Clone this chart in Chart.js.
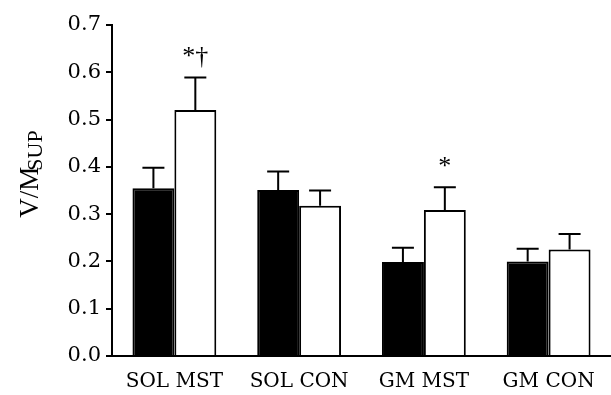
<!DOCTYPE html>
<html>
<head>
<meta charset="utf-8">
<script src="https://cdn.jsdelivr.net/npm/chart.js@4.4.0/dist/chart.umd.min.js"></script>
<style>
  html, body { margin: 0; padding: 0; background: #fff; }
  #wrap { width: 611px; height: 395px; }
</style>
</head>
<body>
<div id="wrap"><canvas id="myChart"></canvas></div>
<script>
// data
var categories = ["SOL MST", "SOL CON", "GM MST", "GM CON"];
var preValues = [0.355, 0.351, 0.199, 0.200];
var postValues = [0.520, 0.318, 0.309, 0.225];
var preErrors = [0.043, 0.039, 0.030, 0.027];
var postErrors = [0.069, 0.032, 0.048, 0.033];
var markers = ["", "", "", ""];
var postMarkers = ["*\u2020", "", "*", ""];
var yTicks = [0, 0.1, 0.2, 0.3, 0.4, 0.5, 0.6, 0.7];

var serif = "'DejaVu Serif', 'Liberation Serif', serif";
var times = "'Liberation Serif', serif";

// error bars (upwards only) + significance marks
var errorBarPlugin = {
    id: "errorBars",
    afterDatasetsDraw: function (chart) {
        var ctx = chart.ctx;
        var yScale = chart.scales.y;
        var errs = [preErrors, postErrors];
        ctx.save();
        ctx.strokeStyle = "#000";
        ctx.lineWidth = 2;
        chart.data.datasets.forEach(function (ds, di) {
            var meta = chart.getDatasetMeta(di);
            meta.data.forEach(function (bar, i) {
                var top = yScale.getPixelForValue(ds.data[i] + errs[di][i]);
                var x = bar.x;
                ctx.beginPath();
                ctx.moveTo(x, bar.y);
                ctx.lineTo(x, top);
                ctx.moveTo(x - 11, top);
                ctx.lineTo(x + 11, top);
                ctx.stroke();
                var mk = di === 1 ? postMarkers[i] : markers[i];
                if (mk) {
                    ctx.fillStyle = "#000";
                    ctx.font = "26px " + times;
                    ctx.textAlign = "center";
                    ctx.textBaseline = "alphabetic";
                    ctx.fillText(mk, x, top - 13);
                }
            });
        });
        ctx.restore();
    },
};

// rotated y axis title with subscript
var yTitlePlugin = {
    id: "yTitle",
    afterDraw: function (chart) {
        var ctx = chart.ctx;
        ctx.save();
        ctx.translate(38, 174);
        ctx.rotate(-Math.PI / 2);
        ctx.fillStyle = "#000";
        ctx.textBaseline = "alphabetic";
        ctx.textAlign = "left";
        var main = "V/M";
        var sub = "SUP";
        ctx.font = "27px " + times;
        var w1 = ctx.measureText(main).width;
        ctx.font = "22px " + times;
        var w2 = ctx.measureText(sub).width;
        var start = -(w1 + w2 - 4) / 2;
        ctx.font = "27px " + times;
        ctx.fillText(main, start, 0);
        ctx.font = "22px " + times;
        ctx.fillText(sub, start + w1 - 4, 4);
        ctx.restore();
    },
};

var ctx = document.getElementById("myChart").getContext("2d");
var myChart = new Chart(ctx, {
    type: "bar",
    data: {
        labels: categories,
        datasets: [
            {
                label: "Pre",
                data: preValues,
                backgroundColor: "#000",
                borderColor: "#000",
                borderWidth: 2,
            },
            {
                label: "Post",
                data: postValues,
                backgroundColor: "#fff",
                borderColor: "#000",
                borderWidth: 2,
            },
        ],
    },
    options: {
        responsive: true,
        maintainAspectRatio: false,
        animation: false,
        layout: { padding: { top: 25, right: 0, left: 0, bottom: 0 } },
        datasets: {
            bar: { categoryPercentage: 0.672, barPercentage: 1.0 },
        },
        plugins: {
            legend: { display: false },
            tooltip: { enabled: false },
        },
        scales: {
            x: {
                grid: { display: false },
                border: { display: true, color: "#000", width: 2 },
                ticks: {
                    color: "#000",
                    font: { family: serif, size: 20 },
                    padding: 6,
                    maxRotation: 0,
                },
                afterFit: function (scale) { scale.height = 39; },
            },
            y: {
                min: 0,
                max: 0.7,
                afterBuildTicks: function (scale) {
                    scale.ticks = yTicks.map(function (v) { return { value: v }; });
                },
                grid: {
                    display: true,
                    drawOnChartArea: false,
                    drawTicks: true,
                    tickLength: 6,
                    color: "#000",
                    lineWidth: 2,
                },
                border: { display: true, color: "#000", width: 2 },
                ticks: {
                    color: "#000",
                    font: { family: serif, size: 21 },
                    padding: 5,
                    callback: function (v) { return Number(v).toFixed(1); },
                },
                afterFit: function (scale) { scale.width = 112; },
            },
        },
    },
    plugins: [errorBarPlugin, yTitlePlugin],
});
</script>
</body>
</html>
